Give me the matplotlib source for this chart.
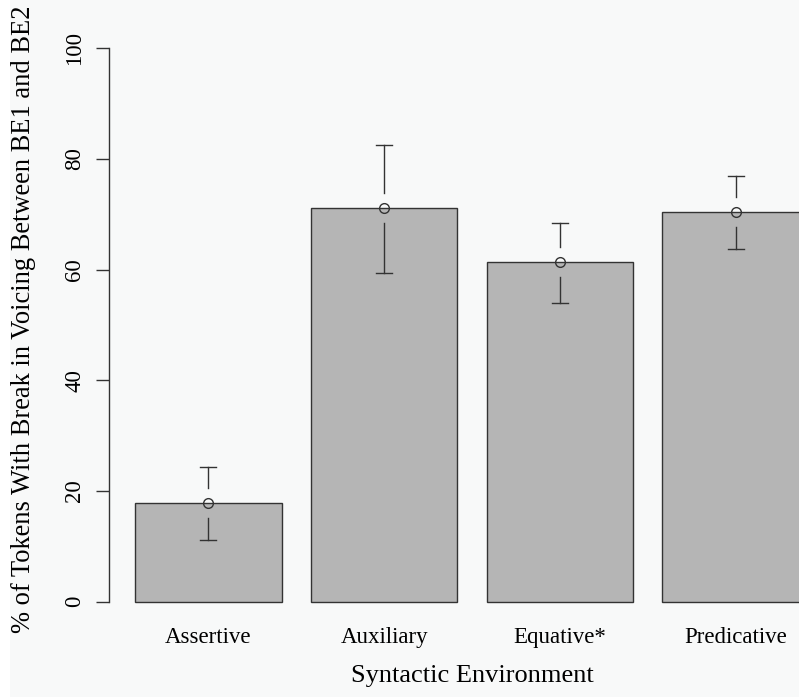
"""
bar plot of % of tokens with a voicing break between BE1 and BE2 per syntactic environment,
with confidence intervals drawn R/plotrix style (open circle at the mean, gap round it).
"""
import matplotlib.pyplot as plt
import matplotlib.patches as mpatches
import numpy as np

# values
categories = ['Assertive', 'Auxiliary', 'Equative*', 'Predicative']
means = [17.8, 71.1, 61.3, 70.4]
ci_upper = [24.4, 82.6, 68.5, 77.0]
ci_lower = [11.1, 59.4, 53.9, 63.8]
yticks = [0, 20, 40, 60, 80, 100]

# R barplot style positions: width 1, space 0.2
centers = 0.7 + 1.2 * np.arange(len(categories))

W, H, DPI = 799, 700, 100
fig = plt.figure(figsize=(W / DPI, H / DPI), dpi=DPI, facecolor='#f8f9f9')
plt.rcParams['font.family'] = ['Liberation Serif', 'DejaVu Serif']

# white strips at the left and bottom edge of the original screenshot
fig.patches.append(mpatches.Rectangle((0, 0), 10 / W, 1, transform=fig.transFigure,
                                      facecolor='white', edgecolor='none', zorder=0))
fig.patches.append(mpatches.Rectangle((0, 0), 1, 3 / H, transform=fig.transFigure,
                                      facecolor='white', edgecolor='none', zorder=0))

# plot region (in pixels), the right part runs past the figure edge like the cropped original
px_per_x = 146.4
x0_px = 106.0
left_px, right_px = 108.7, 835.7
bottom_px, top_px = 623.8, 26.1
ax = fig.add_axes([left_px / W, (H - bottom_px) / H,
                   (right_px - left_px) / W, (bottom_px - top_px) / H])
ax.set_facecolor('none')
ax.set_xlim((left_px - x0_px) / px_per_x, (right_px - x0_px) / px_per_x)
ax.set_ylim(-4, 104)

line_col = '#333333'
ax.bar(centers, means, width=1.0, color='#b5b5b5', edgecolor=line_col, linewidth=1.0, zorder=2)

# error bars with a gap around the mean marker
px_per_y = (bottom_px - top_px) / 108.0
gap = 15 / px_per_y
cap = 8 / px_per_x
for xc, m, lo, hi in zip(centers, means, ci_lower, ci_upper):
    if hi - m > gap:
        ax.plot([xc, xc], [m + gap, hi], color=line_col, lw=1.0, zorder=3)
    if m - lo > gap:
        ax.plot([xc, xc], [lo, m - gap], color=line_col, lw=1.0, zorder=3)
    ax.plot([xc - cap, xc + cap], [hi, hi], color=line_col, lw=1.0, zorder=3)
    ax.plot([xc - cap, xc + cap], [lo, lo], color=line_col, lw=1.0, zorder=3)
ax.plot(centers, means, 'o', mfc='none', mec=line_col, mew=1.0, ms=7, zorder=4)

# axes styling like base R
for side in ['top', 'right', 'bottom']:
    ax.spines[side].set_visible(False)
ax.spines['left'].set_bounds(0, 100)
ax.spines['left'].set_color(line_col)
ax.spines['left'].set_linewidth(1.0)

ax.set_yticks(yticks)
ax.set_yticklabels([str(t) for t in yticks], rotation=90, va='center')
ax.tick_params(axis='y', length=9.4, width=1.0, color=line_col, pad=7.5, labelsize=16.5)
ax.set_xticks(centers)
ax.set_xticklabels(categories)
ax.tick_params(axis='x', length=0, pad=2.0, labelsize=16.5)

ax.set_xlabel('Syntactic Environment', fontsize=19, labelpad=12.5)
fig.text(24 / W, (H - 633) / H, '% of Tokens With Break in Voicing Between BE1 and BE2',
         rotation=90, ha='center', va='bottom', fontsize=19.1)

fig.savefig('out.png', dpi=DPI, facecolor=fig.get_facecolor())
plt.close(fig)
